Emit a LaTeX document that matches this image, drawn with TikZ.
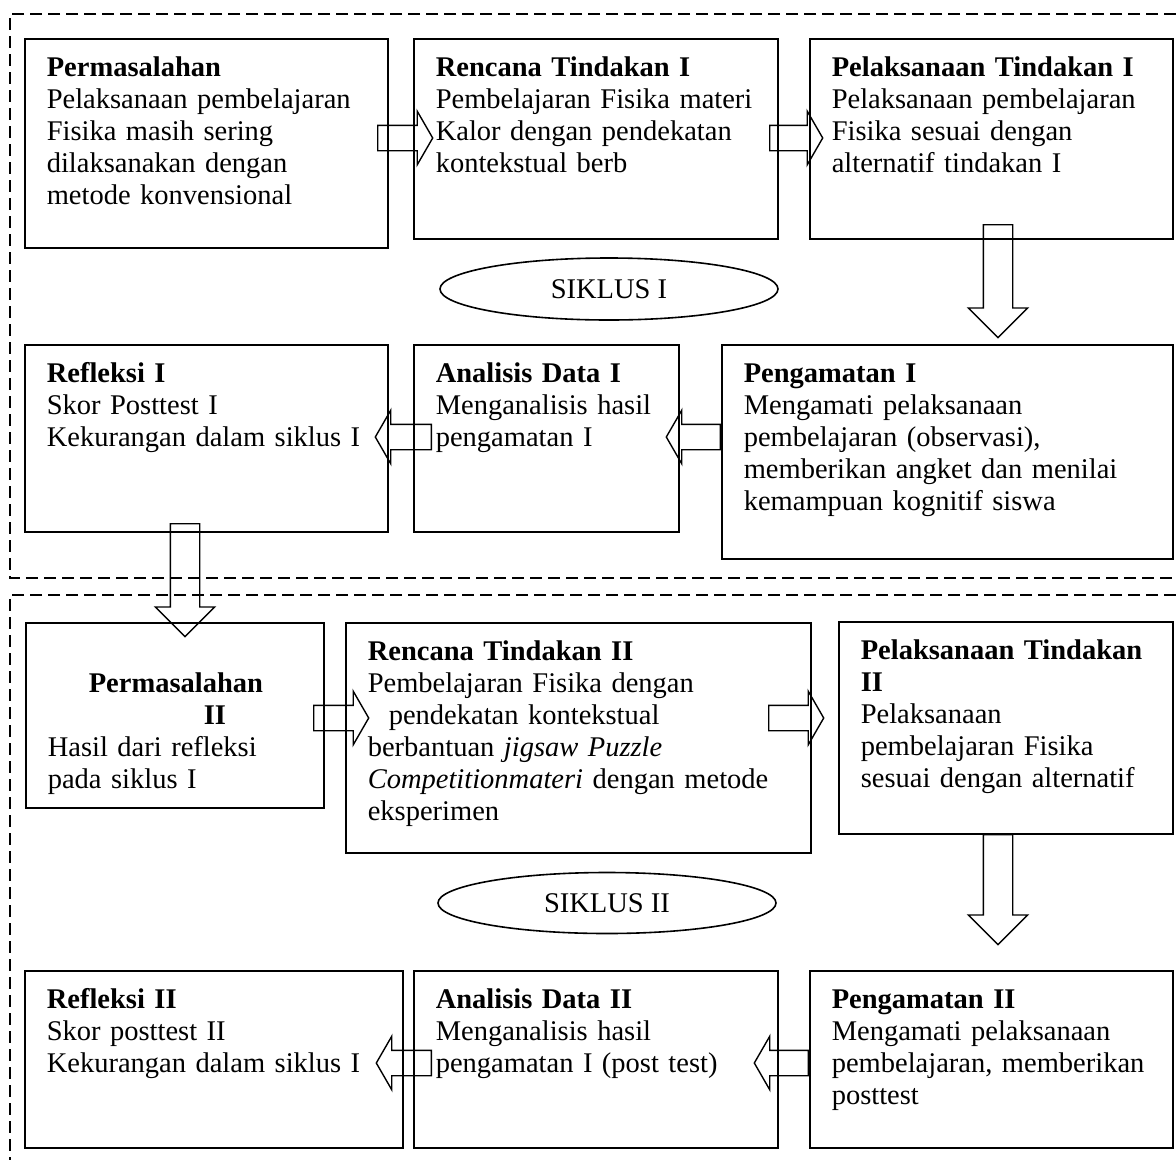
\documentclass[tikz,border=0pt]{standalone}
\usepackage{fontspec}
\setmainfont{Liberation Serif}
\usepackage{tikz}
\usetikzlibrary{shapes}

\begin{document}
\begin{tikzpicture}[x=1pt,y=-1pt]
\tikzstyle{kotak}=[draw, line width=1.6pt, anchor=north west, inner xsep=22pt, inner ysep=0pt, text height=38pt, align=left, font=\fontsize{28.5}{32}\selectfont]
\tikzstyle{siklus}=[ellipse, draw, line width=1.6pt, minimum width=338pt, minimum height=62pt, inner sep=0pt, font=\fontsize{28.5}{32}\selectfont]
\tikzstyle{panah}=[single arrow, draw, line width=1.4pt, anchor=tail, inner sep=12pt, single arrow head extend=14pt, single arrow tip angle=120, minimum height=55pt]
\tikzstyle{panahkiri}=[panah, shape border rotate=180]
\tikzstyle{panahbawah}=[panah, shape border rotate=270, inner sep=14pt, single arrow head extend=15pt, single arrow tip angle=90, minimum height=113pt]
\tikzstyle{bingkai}=[dash pattern=on 12pt off 6pt, line width=1.6pt]
\useasboundingbox (0,0) rectangle (1176,1160);

\draw[bingkai] (1176,14) -- (10,14) -- (10,578) -- (1176,578);
\draw[bingkai] (1176,595) -- (10,595) -- (10,1160);

% siklus I
\node[kotak, text width=319pt, text depth=171pt] (perm1) at (24,38) {\textbf{Permasalahan}\\ Pelaksanaan pembelajaran\\ Fisika masih sering\\ dilaksanakan dengan\\ metode konvensional};
\node[kotak, text width=320pt, text depth=162pt] (ren1) at (413,38) {\textbf{Rencana Tindakan I}\\ Pembelajaran Fisika materi\\ Kalor dengan pendekatan\\ kontekstual berb};
\node[kotak, text width=319pt, text depth=162pt] (pel1) at (809,38) {\textbf{Pelaksanaan Tindakan I}\\ Pelaksanaan pembelajaran\\ Fisika sesuai dengan\\ alternatif tindakan I};
\node[kotak, text width=319pt, text depth=149pt] (ref1) at (24,344) {\textbf{Refleksi I}\\ Skor Posttest I\\ Kekurangan dalam siklus I};
\node[kotak, text width=221pt, text depth=149pt] (ana1) at (413,344) {\textbf{Analisis Data I}\\ Menganalisis hasil\\ pengamatan I};
\node[kotak, text width=407pt, text depth=176pt] (pen1) at (721,344) {\textbf{Pengamatan I}\\ Mengamati pelaksanaan\\ pembelajaran (observasi),\\ memberikan angket dan menilai\\ kemampuan kognitif siswa};
\node[siklus] (sik1) at (609,289) {SIKLUS I};

\node[panah] (a1) at (377,138) {};
\node[panah, minimum height=53pt] (a2) at (769,138) {};
\node[panahbawah] (a3) at (998,224) {};
\node[panahkiri, minimum height=54pt] (a4) at (721,437) {};
\node[panahkiri, minimum height=56pt] (a5) at (432,437) {};
\node[panahbawah] (a6) at (185,523) {};

% siklus II
\node[kotak, text width=254pt, text depth=147pt] (perm2) at (25,622) {\mbox{}\\ \hspace*{41pt}\textbf{Permasalahan}\\ \hspace*{156pt}\textbf{II}\\ Hasil dari refleksi\\ pada siklus I};
\node[kotak, text width=421pt, text depth=192pt] (ren2) at (345,622) {\textbf{Rencana Tindakan II}\\ Pembelajaran Fisika dengan\\ \hspace*{21pt}pendekatan kontekstual\\ berbantuan \textit{jigsaw Puzzle}\\ \textit{Competitionmateri} dengan metode\\ eksperimen};
\node[kotak, text width=290pt, text depth=174pt] (pel2) at (838,621) {\textbf{Pelaksanaan Tindakan}\\ \textbf{II}\\ Pelaksanaan\\ pembelajaran Fisika\\ sesuai dengan alternatif};
\node[kotak, text width=334pt, text depth=139pt] (ref2) at (24,970) {\textbf{Refleksi II}\\ Skor posttest II\\ Kekurangan dalam siklus I};
\node[kotak, text width=320pt, text depth=139pt] (ana2) at (413,970) {\textbf{Analisis Data II}\\ Menganalisis hasil\\ pengamatan I (post test)};
\node[kotak, text width=319pt, text depth=139pt] (pen2) at (809,970) {\textbf{Pengamatan II}\\ Mengamati pelaksanaan\\ pembelajaran, memberikan\\ posttest};
\node[siklus, minimum height=61pt] (sik2) at (607,903) {SIKLUS II};

\node[panah] (a7) at (313,718) {};
\node[panah] (a8) at (768,718) {};
\node[panahbawah, minimum height=110pt] (a9) at (998,834) {};
\node[panahkiri, minimum height=54pt] (a10) at (809,1063) {};
\node[panahkiri] (a11) at (432,1063) {};
\end{tikzpicture}
\end{document}
